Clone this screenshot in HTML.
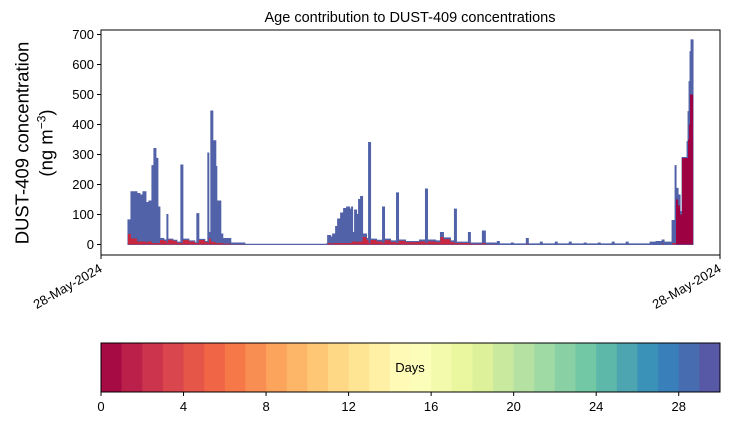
<!DOCTYPE html>
<html><head><meta charset="utf-8"><style>
body{margin:0;background:#fff;}
svg{display:block;font-family:"Liberation Sans","DejaVu Sans",sans-serif;}
</style></head><body>
<svg id="chart" width="730" height="425" viewBox="0 0 730 425">
<text x="410" y="22" text-anchor="middle" font-size="14.5">Age contribution to DUST-409 concentrations</text>
<g transform="translate(22,143) rotate(-90)">
<text x="0" y="0" text-anchor="middle" font-size="18.5" dy="0.35em">DUST-409 concentration</text>
<text x="0" y="24" text-anchor="middle" font-size="18.5" dy="0.35em">(ng m<tspan baseline-shift="super" font-size="12">−3</tspan>)</text>
</g>
<g id="plot"></g>
<g id="yaxis"></g>
<g id="xaxis"></g>
<g id="cbar"></g>
</svg>
<script>
// time index (arbitrary units), total concentration, young (<1 day) part
const times = [27,30,36,39,42,45,46,48,51,53,55,57,59,63,66,67,72,76,80,82,88,94,96,98,104,107,108,110,112,115,116,119,120,122,130,144,226,227,230,232,235,237,240,243,246,249,251,252,254,256,258,260,262,266,268,270,276,282,284,290,296,298,305,319,325,327,335,340,343,350,354,356,368,370,382,385,397,399,411,413,426,428,440,442,455,457,469,471,484,486,498,500,512,514,526,528,550,556,562,564,572,575,576,578,580,582,587,588,589,590,591,593];
const totals = [82,176,170,165,176,125,140,145,263,320,287,125,20,15,100,18,14,8,265,18,12,6,103,17,10,305,40,445,346,260,145,145,35,20,5,1,2,30,25,35,60,85,105,120,125,118,125,40,115,100,150,160,35,20,340,18,14,125,18,12,172,15,10,15,185,15,12,40,22,12,118,8,40,5,45,5,10,2,5,2,20,2,8,2,8,2,8,2,5,2,5,2,8,2,8,2,8,10,15,8,80,263,187,165,110,290,343,443,543,643,682,0];
const young = [35,20,10,10,10,5,10,10,5,5,5,5,15,12,5,16,12,6,5,15,10,5,5,15,8,5,20,10,8,5,5,5,5,3,1,0,0,5,3,5,5,5,5,5,5,5,10,10,10,8,10,10,25,15,5,15,10,5,14,8,5,12,8,10,5,10,8,25,18,8,5,5,5,2,5,1,0,0,0,0,2,0,0,0,0,0,0,0,0,0,0,0,0,0,0,0,0,0,2,0,5,5,150,130,100,288,288,350,400,500,500,0];
const yTicks = [0,100,200,300,400,500,600,700];
const cbTicks = [0,4,8,12,16,20,24,28];
const xLabels = ["28-May-2024","28-May-2024"];

const NS="http://www.w3.org/2000/svg";
const L=101,R=720,T=30,B=255;
const xs=t=>L+(t/620)*(R-L);
const ys=v=>244.5-v*0.3;
function mk(tag,attrs,parent){const e=document.createElementNS(NS,tag);for(const k in attrs)e.setAttribute(k,attrs[k]);parent.appendChild(e);return e;}
const plot=document.getElementById('plot');
function stepPath(vals){
  let d=`M${xs(times[0])},${ys(0)}`;
  for(let i=0;i<times.length-1;i++){d+=`L${xs(times[i])},${ys(vals[i])}L${xs(times[i+1])},${ys(vals[i])}`;}
  d+=`L${xs(times[times.length-1])},${ys(0)}Z`;return d;
}
const older=mk('path',{d:stepPath(totals),fill:'#5262a8',stroke:'#5262a8','stroke-width':'1'},plot);


const yv=young.map((v,i)=>v);
const yp=mk('path',{d:stepPath(yv),fill:'#c8283f',stroke:'none'},plot);


// final episode darker
const fin=[];for(let i=0;i<times.length;i++)fin.push(times[i]>=576?young[i]:0);
const fp=mk('path',{d:stepPath(fin),fill:'#9e0142',stroke:'none'},plot);


const frame=mk('rect',{x:L,y:T,width:R-L,height:B-T,fill:'none',stroke:'#000','stroke-width':'1'},plot);


const yaxis=document.getElementById('yaxis');
yTicks.forEach(v=>{
  const tk=mk('line',{x1:L-4,x2:L,y1:ys(v),y2:ys(v),stroke:'#000'},yaxis);
  
  
  const tx=mk('text',{x:L-7,y:ys(v)+4.5,'text-anchor':'end','font-size':'13'},yaxis);
  
  
  tx.textContent=v;
});
const xaxis=document.getElementById('xaxis');
[L,R].forEach((x,i)=>{
  const tk=mk('line',{x1:x,x2:x,y1:B,y2:B+4,stroke:'#000'},xaxis);
  
  
  const tx=mk('text',{x:x+2,y:B+16,'text-anchor':'end','font-size':'13',transform:`rotate(-30 ${x+2} ${B+16})`},xaxis);
  
  
  tx.textContent=xLabels[i];
});
// colorbar
const anchors=['#9e0142','#d53e4f','#f46d43','#fdae61','#fee08b','#ffffbf','#e6f598','#abdda4','#66c2a5','#3288bd','#5e4fa2'];
function hx(h){return [1,3,5].map(i=>parseInt(h.substr(i,2),16));}
function spectral(f){const p=f*10,i=Math.min(9,Math.floor(p)),r=p-i,a=hx(anchors[i]),b=hx(anchors[i+1]);return `rgb(${a.map((c,k)=>Math.round(c+(b[k]-c)*r)).join(',')})`;}
const cb=document.getElementById('cbar');
const CL=101,CR=720,CT=343,CB=392,N=30,cx=d=>CL+d/N*(CR-CL);
for(let i=0;i<N;i++){
  const r=mk('rect',{x:cx(i),y:CT,width:(CR-CL)/N+0.5,height:CB-CT,fill:spectral((i+0.5)/N)},cb);
  
  
}
const cf=mk('rect',{x:CL,y:CT,width:CR-CL,height:CB-CT,fill:'none',stroke:'#000'},cb);


const dl=mk('text',{x:410,y:372,'text-anchor':'middle','font-size':'13'},cb);


dl.textContent='Days';
cbTicks.forEach(v=>{
  const tk=mk('line',{x1:cx(v),x2:cx(v),y1:CB,y2:CB+4,stroke:'#000'},cb);
  
  
  const tx=mk('text',{x:cx(v),y:CB+19,'text-anchor':'middle','font-size':'13'},cb);
  
  
  tx.textContent=v;
});
</script>
</body></html>
